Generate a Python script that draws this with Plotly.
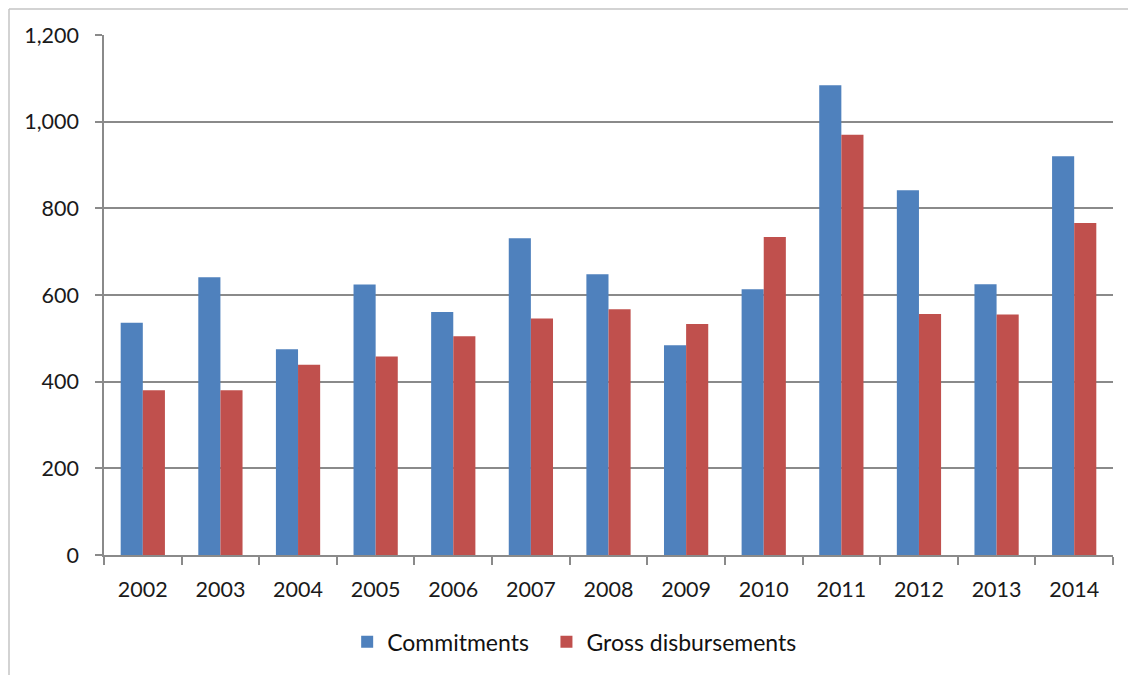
import plotly.graph_objects as go

years = ["2002", "2003", "2004", "2005", "2006", "2007", "2008",
         "2009", "2010", "2011", "2012", "2013", "2014"]
commitments = [536, 641, 475, 624, 561, 731, 648, 484, 613, 1084, 842, 625, 920]
gross_disbursements = [380, 380, 439, 458, 505, 546, 567, 533, 734, 970, 556, 555, 766]
y_ticks = [0, 200, 400, 600, 800, 1000, 1200]

FONT = "Lato"
GRID = "#8a8a8a"
PW, PH = 1009, 520  # plot area size in px

fig = go.Figure()
fig.add_trace(go.Bar(x=years, y=commitments, name="Commitments", legend="legend",
                     marker=dict(color="#4F81BD", line=dict(width=0))))
fig.add_trace(go.Bar(x=years, y=gross_disbursements, name="Gross disbursements",
                     legend="legend2",
                     marker=dict(color="#C0504D", line=dict(width=0))))

legend_common = dict(orientation="h", xanchor="left", y=-86.7 / PH, yanchor="middle",
                     font=dict(family=FONT, size=23, color="#111111"),
                     itemwidth=30, bgcolor="rgba(0,0,0,0)")

fig.update_layout(
    width=1128, height=667,
    margin=dict(l=96, r=23, t=27, b=120),
    paper_bgcolor="white", plot_bgcolor="white",
    barmode="group", bargap=0.43, bargroupgap=0,
    font=dict(family=FONT, size=21.5, color="#1a1a1a"),
    showlegend=True,
    legend=dict(x=0.241, **legend_common),
    legend2=dict(x=0.4385, **legend_common),
    xaxis=dict(type="category", showline=True, linecolor=GRID, linewidth=1.5,
               ticks="outside", tickson="boundaries", ticklen=8, tickcolor=GRID,
               tickwidth=1.5, showgrid=False, tickfont=dict(size=21.5),
               ticklabelstandoff=14),
    yaxis=dict(range=[0, 1200], tickvals=y_ticks, tickformat=",",
               showline=True, linecolor=GRID, linewidth=1.5,
               ticks="outside", ticklen=7, tickcolor=GRID, tickwidth=1.5,
               showgrid=True, gridcolor=GRID, gridwidth=1.5,
               zeroline=False, tickfont=dict(size=21.5), ticklabelstandoff=12),
)

# outer chart border (top and left visible)
bx = -95 / PW
by = 1 + 26 / PH
fig.add_shape(type="line", xref="paper", yref="paper",
              x0=bx, x1=1.05, y0=by, y1=by,
              line=dict(color="#c4c4c4", width=1.5))
fig.add_shape(type="line", xref="paper", yref="paper",
              x0=bx, x1=bx, y0=by, y1=-0.25,
              line=dict(color="#c4c4c4", width=1.5))

fig.write_html("out.html")
